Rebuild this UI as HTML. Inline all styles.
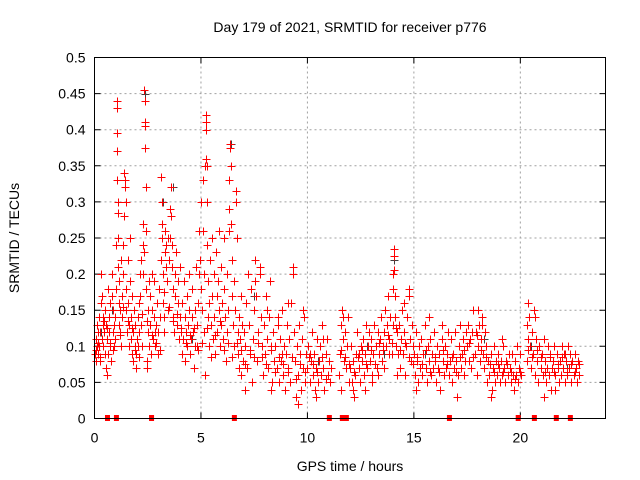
<!DOCTYPE html>
<html><head><meta charset="utf-8"><style>
html,body{margin:0;padding:0;background:#fff;}
svg{display:block;font-family:"Liberation Sans",sans-serif;}
</style></head><body>
<svg id="chart" width="640" height="480" viewBox="0 0 640 480" xmlns="http://www.w3.org/2000/svg">
<rect width="640" height="480" fill="#fff"/>
<text x="350" y="32" font-size="14" text-anchor="middle">Day 179 of 2021, SRMTID for receiver p776</text>
<text transform="translate(19,238) rotate(-90)" font-size="14" text-anchor="middle">SRMTID / TECUs</text>
<text x="350" y="471" font-size="14" text-anchor="middle">GPS time / hours</text>
<g id="grid"></g>
<g id="ticks"></g>
<g id="marks"></g>
<rect x="94.5" y="57.5" width="511" height="361" fill="none" stroke="#000" stroke-width="1"/>
</svg>
<script>
const xTicks = [0,5,10,15,20];
const xTickLabels = ["0","5","10","15","20"];
const yTicks = [0,0.05,0.1,0.15,0.2,0.25,0.3,0.35,0.4,0.45,0.5];
const yTickLabels = ["0","0.05","0.1","0.15","0.2","0.25","0.3","0.35","0.4","0.45","0.5"];
const gapHours = [0.61,1.03,2.68,6.57,11.03,11.64,11.83,16.67,19.9,20.66,21.69,22.35];
const grayPoints = [[0.3,.12],[1.05,.44],[2.35,.45],[2.4,.26],[3.7,.32],[5.25,.41],[6.4,.38],[9.3,.21],[13.6,.09],[18.3,.11],[0.8,.15],[4.6,.11],[3.2,.3],[7.5,.17],[10.5,.08],[12.8,.1],[15.5,.09],[20.5,.1],[22.2,.07],[14.06,.22]];
const redPoints = [
[0.02,.09],[0.05,.11],[0.08,.08],[0.1,.1],[0.12,.13],[0.15,.09],[0.18,.12],[0.2,.14],[0.22,.1],[0.25,.08],[0.27,.12],[0.3,.16],[0.32,.2],[0.34,.17],[0.36,.11],[0.38,.13],[0.4,.1],[0.42,.14],[0.45,.12],[0.48,.09],[0.5,.15],[0.52,.13],[0.55,.07],[0.58,.11],[0.6,.06],[0.62,.09],[0.65,.18],[0.68,.14],[0.7,.12],[0.72,.16],[0.75,.1],[0.78,.08],[0.8,.2],[0.82,.17],[0.85,.12],[0.88,.15],[0.9,.13],[0.92,.1],[0.95,.11],[0.98,.14],
[1.0,.24],[1.02,.18],[1.04,.43],[1.05,.44],[1.06,.395],[1.07,.37],[1.08,.33],[1.09,.3],[1.1,.285],[1.11,.25],[1.12,.21],[1.13,.16],[1.15,.13],[1.17,.19],[1.2,.15],[1.22,.12],[1.24,.22],[1.26,.1],[1.28,.17],
[1.3,.14],[1.33,.24],[1.35,.2],[1.38,.28],[1.4,.34],[1.42,.33],[1.44,.32],[1.46,.3],[1.48,.18],[1.5,.15],[1.52,.12],[1.55,.22],[1.58,.16],[1.6,.1],[1.62,.13],[1.65,.25],[1.68,.19],[1.7,.11],[1.72,.14],[1.75,.09],[1.78,.17],
[1.8,.12],[1.83,.08],[1.86,.15],[1.88,.1],[1.9,.13],[1.93,.07],[1.96,.09],[2.0,.11],[2.03,.14],[2.05,.1],[2.08,.16],[2.1,.12],[2.13,.2],[2.15,.17],[2.18,.22],[2.2,.13],[2.23,.1],[2.26,.24],[2.28,.27],
[2.3,.2],[2.32,.23],[2.34,.455],[2.35,.44],[2.36,.41],[2.37,.405],[2.38,.375],[2.4,.32],[2.42,.26],[2.44,.18],[2.46,.08],[2.48,.07],[2.5,.15],[2.52,.12],[2.55,.19],[2.58,.1],
[2.6,.17],[2.63,.13],[2.66,.09],[2.7,.2],[2.72,.15],[2.75,.11],[2.78,.14],[2.8,.19],[2.83,.12],[2.86,.1],[2.9,.13],[2.93,.16],[2.96,.09],[3.0,.12],[3.03,.18],[3.06,.14],
[3.1,.22],[3.13,.335],[3.15,.3],[3.17,.27],[3.19,.25],[3.2,.2],[3.22,.16],[3.25,.14],[3.28,.12],[3.3,.23],[3.33,.26],[3.35,.21],[3.38,.24],[3.4,.19],[3.43,.15],[3.46,.25],[3.5,.22],[3.53,.29],[3.55,.25],[3.58,.32],[3.6,.28],[3.62,.24],[3.65,.21],[3.68,.14],[3.7,.18],[3.73,.12],[3.76,.2],[3.8,.17],[3.83,.23],[3.86,.13],[3.9,.16],[3.93,.19],[3.96,.11],[4.0,.14],[4.03,.21],[4.06,.12],
[4.1,.09],[4.13,.16],[4.16,.11],[4.2,.19],[4.23,.14],[4.26,.08],[4.3,.12],[4.33,.17],[4.36,.1],[4.4,.13],[4.43,.2],[4.46,.15],[4.5,.09],[4.53,.11],[4.56,.14],[4.6,.18],[4.63,.12],[4.66,.07],[4.7,.1],[4.73,.15],[4.76,.21],[4.8,.13],[4.83,.1],[4.86,.16],
[4.9,.2],[4.93,.26],[4.96,.22],[5.0,.3],[5.02,.18],[5.05,.15],[5.08,.33],[5.1,.26],[5.12,.2],[5.15,.12],[5.18,.06],[5.2,.35],[5.22,.42],[5.23,.41],[5.24,.4],[5.25,.36],[5.27,.35],[5.29,.3],[5.3,.24],[5.32,.19],[5.35,.14],[5.38,.1],[5.4,.16],[5.43,.22],[5.46,.13],[5.5,.25],[5.53,.17],[5.56,.11],
[5.6,.2],[5.63,.14],[5.66,.09],[5.7,.23],[5.73,.17],[5.76,.12],[5.8,.19],[5.83,.26],[5.86,.15],[5.9,.1],[5.93,.13],[5.96,.21],[6.0,.16],[6.03,.11],[6.06,.25],[6.1,.18],[6.13,.14],[6.16,.08],[6.2,.12],[6.23,.2],[6.26,.15],
[6.3,.26],[6.32,.29],[6.34,.33],[6.36,.375],[6.38,.38],[6.4,.35],[6.42,.27],[6.44,.22],[6.46,.17],[6.5,.13],[6.53,.1],[6.56,.19],[6.6,.15],[6.63,.3],[6.66,.315],[6.7,.25],[6.72,.12],[6.75,.09],[6.78,.07],[6.8,.14],[6.83,.11],[6.86,.17],[6.9,.06],[6.93,.13],[6.96,.08],
[7.0,.12],[7.05,.1],[7.1,.16],[7.15,.07],[7.2,.2],[7.25,.13],[7.3,.09],[7.35,.18],[7.4,.05],[7.45,.11],[7.5,.15],[7.55,.22],[7.6,.17],[7.65,.08],[7.7,.12],[7.75,.2],[7.8,.14],[7.85,.1],[7.9,.06],[7.95,.13],[8.0,.09],[8.05,.17],[8.1,.11],[8.15,.07],[8.2,.14],[8.25,.19],[8.3,.1],[8.35,.05],[8.4,.12],[8.45,.08],[7.08,.04],[7.52,.19],[7.78,.21],[8.08,.15],[8.28,.04],
[8.5,.1],[8.55,.07],[8.6,.14],[8.65,.05],[8.7,.11],[8.75,.08],[8.8,.15],[8.85,.06],[8.9,.1],[8.95,.04],[9.0,.09],[9.05,.13],[9.1,.07],[9.15,.11],[9.2,.05],[9.25,.16],[9.3,.2],[9.32,.21],[9.35,.12],[9.4,.08],[9.45,.03],[9.5,.1],[9.55,.06],[9.6,.13],[9.65,.09],[9.7,.04],[9.75,.11],[9.8,.07],[9.85,.14],[9.9,.05],[9.95,.09],[8.62,.13],[8.82,.09],[9.08,.16],[9.58,.02],[9.78,.15],
[10.0,.07],[10.05,.1],[10.1,.05],[10.15,.08],[10.2,.12],[10.25,.06],[10.3,.09],[10.35,.04],[10.4,.07],[10.45,.11],[10.5,.05],[10.55,.08],[10.6,.1],[10.65,.06],[10.7,.13],[10.75,.07],[10.8,.04],[10.85,.09],[10.9,.11],[10.95,.06],[11.0,.08],[11.05,.05],[11.1,.07],[10.12,.09],[10.42,.03],[10.72,.11],
[11.5,.06],[11.55,.09],[11.6,.13],[11.62,.15],[11.65,.11],[11.7,.08],[11.75,.12],[11.8,.07],[11.85,.1],[11.9,.14],[11.95,.05],[11.58,.04],[11.68,.14],
[12.0,.07],[12.05,.1],[12.1,.05],[12.15,.08],[12.2,.03],[12.25,.06],[12.3,.09],[12.35,.12],[12.4,.07],[12.45,.05],[12.5,.1],[12.55,.08],[12.6,.11],[12.65,.06],[12.7,.09],[12.75,.13],[12.8,.07],[12.85,.1],[12.9,.12],[12.95,.08],[13.0,.11],[13.05,.06],[13.1,.09],[13.15,.13],[13.2,.1],[13.25,.07],[13.3,.12],[13.35,.09],[13.4,.11],[13.45,.14],[13.5,.08],[13.55,.1],[13.6,.12],[13.65,.15],[13.7,.1],[13.75,.13],[13.8,.17],[13.85,.11],[13.9,.14],[13.95,.09],[12.12,.04],[12.42,.09],[12.72,.04],[13.02,.05],[13.32,.06],[13.62,.07],[13.82,.09],
[14.0,.13],[14.02,.18],[14.04,.2],[14.06,.235],[14.07,.225],[14.08,.205],[14.1,.17],[14.12,.14],[14.15,.1],[14.2,.12],[14.25,.09],[14.3,.13],[14.35,.07],[14.4,.11],[14.45,.15],[14.5,.09],[14.55,.12],[14.6,.06],[14.65,.1],[14.7,.14],[14.75,.18],[14.78,.17],[14.8,.11],[14.85,.08],[14.9,.13],[14.95,.1],[14.22,.06],[14.52,.16],
[15.0,.09],[15.05,.06],[15.1,.12],[15.15,.08],[15.2,.05],[15.25,.1],[15.3,.07],[15.35,.11],[15.4,.06],[15.45,.09],[15.5,.13],[15.55,.07],[15.6,.05],[15.65,.1],[15.7,.08],[15.75,.11],[15.8,.06],[15.85,.09],[15.9,.07],[15.95,.12],[16.0,.08],[16.05,.05],[16.1,.1],[16.15,.07],[16.2,.09],[16.25,.04],[16.3,.11],[16.35,.08],[16.4,.06],[16.45,.1],[16.5,.07],[16.55,.09],[16.6,.12],[16.65,.06],[16.7,.08],[16.75,.11],[16.8,.05],[16.85,.09],[16.9,.07],[16.95,.12],[17.0,.08],[17.05,.06],[17.1,.1],[17.15,.13],[17.2,.07],[17.25,.09],[17.3,.11],[17.35,.06],[17.4,.08],[17.45,.12],[15.12,.04],[15.72,.14],[16.32,.13],[17.02,.03],
[17.5,.1],[17.55,.13],[17.6,.08],[17.65,.11],[17.7,.07],[17.75,.12],[17.8,.15],[17.85,.09],[17.9,.12],[17.95,.06],[18.0,.1],[18.05,.13],[18.1,.08],[18.15,.11],[18.2,.14],[18.25,.09],[18.3,.07],[18.35,.12],[18.4,.1],[18.45,.05],[18.5,.08],[18.55,.06],[18.6,.09],[18.65,.04],[18.7,.07],[18.75,.1],[18.8,.05],[18.85,.08],[18.9,.06],[18.95,.09],[19.0,.07],[19.05,.05],[19.1,.08],[19.15,.06],[19.2,.1],[19.25,.07],[19.3,.05],[19.35,.08],[19.4,.06],[19.45,.09],[18.02,.15],[18.22,.13],[18.62,.03],[19.12,.11],
[19.5,.07],[19.55,.05],[19.6,.09],[19.65,.06],[19.7,.04],[19.75,.08],[19.8,.06],[19.85,.1],[19.9,.05],[19.95,.07],[20.0,.09],[20.05,.06],
[20.3,.08],[20.32,.13],[20.35,.16],[20.38,.11],[20.4,.14],[20.45,.1],[20.5,.07],[20.55,.12],[20.6,.09],[20.65,.15],[20.68,.14],[20.7,.06],[20.75,.11],[20.8,.08],[20.85,.05],[20.9,.1],[20.95,.07],
[21.0,.09],[21.05,.06],[21.1,.11],[21.15,.08],[21.2,.05],[21.25,.07],[21.3,.1],[21.35,.06],[21.4,.09],[21.45,.04],[21.5,.07],[21.55,.08],[21.6,.1],[21.65,.06],[21.7,.09],[21.75,.07],[21.8,.05],[21.85,.08],[21.9,.06],[21.95,.1],[22.0,.07],[22.05,.09],[22.1,.05],[22.15,.08],[22.2,.06],[22.25,.1],[22.3,.07],[22.35,.09],[22.4,.05],[22.45,.08],[22.5,.06],[22.55,.09],[22.6,.07],[22.65,.05],[22.7,.08],[22.75,.06],[21.12,.03],[21.62,.04],[22.12,.09]
];
const extraPoints = [
[0.07,.095],[0.16,.105],[0.28,.085],[0.44,.135],[0.57,.125],[0.73,.105],[0.86,.095],[1.18,.115],[1.36,.155],[1.57,.135],[1.74,.125],[1.91,.095],[2.07,.085],[2.24,.145],[2.47,.135],[2.68,.115],[2.88,.105],[3.08,.095],[3.27,.175],[3.48,.155],[3.67,.135],[3.88,.145],[4.08,.125],[4.28,.105],[4.48,.115],[4.68,.125],[4.88,.095],[5.07,.105],[5.28,.125],[5.48,.085],[5.68,.115],[5.88,.135],[6.08,.095],[6.28,.105],[6.48,.085],[6.68,.105],[6.88,.095],[7.07,.075],[7.28,.095],[7.48,.085],[7.68,.105],[7.88,.085],[8.07,.075],[8.27,.095],[8.47,.065],[8.67,.085],[8.87,.075],[9.07,.065],[9.27,.085],[9.47,.055],[9.67,.075],[9.87,.065],[10.07,.085],[10.27,.075],[10.47,.065],[10.67,.085],[10.87,.055],[11.57,.095],[11.77,.085],[11.97,.075],[12.17,.065],[12.37,.085],[12.57,.095],[12.77,.075],[12.97,.095],[13.17,.075],[13.37,.105],[13.57,.095],[13.77,.115],[13.97,.105],[14.17,.125],[14.37,.095],[14.57,.105],[14.77,.085],[14.97,.075],[15.17,.085],[15.37,.075],[15.57,.095],[15.77,.065],[15.97,.085],[16.17,.065],[16.37,.095],[16.57,.075],[16.77,.085],[16.97,.065],[17.17,.085],[17.37,.095],[17.57,.105],[17.77,.085],[17.97,.115],[18.17,.095],[18.37,.085],[18.57,.075],[18.77,.065],[18.97,.075],[19.17,.065],[19.37,.075],[19.57,.065],[19.77,.055],[19.97,.065],[20.37,.095],[20.57,.085],[20.77,.095],[20.97,.085],[21.17,.065],[21.37,.085],[21.57,.065],[21.77,.075],[21.97,.085],[22.17,.065],[22.37,.075],[22.57,.065],[22.77,.075]
];

const NS = "http://www.w3.org/2000/svg";
const X0 = 94.5, X1 = 605.5, Y0 = 418.5, Y1 = 57.5;
function xs(h){ return X0 + (h/24)*(X1-X0); }
function ys(v){ return Y0 - (v/0.5)*(Y0-Y1); }
function mk(tag, attrs, parent){ const e = document.createElementNS(NS, tag); for (const k in attrs) e.setAttribute(k, attrs[k]); parent.appendChild(e); return e; }

const grid = document.getElementById('grid');
const ticks = document.getElementById('ticks');
yTicks.forEach((v,i)=>{
  const y = ys(v);
  if (i>0 && i<yTicks.length-1) {
    const g = mk('line',{x1:X0,x2:X1,y1:y,y2:y,stroke:'#a0a0a0','stroke-dasharray':'2,3','stroke-width':1},grid);
    
    
  }
  const t = mk('path',{d:`M${X0} ${y}h6M${X1} ${y}h-6`,stroke:'#000','stroke-width':1},ticks);
  
  
  const lb = mk('text',{x:X0-9,y:y+5,'font-size':14,'text-anchor':'end'},ticks);
  lb.textContent = yTickLabels[i];
  
  
});
xTicks.forEach((h,i)=>{
  const x = xs(h);
  if (i>0) {
    const g = mk('line',{x1:x,x2:x,y1:Y0,y2:Y1,stroke:'#a0a0a0','stroke-dasharray':'2,3','stroke-width':1},grid);
    
    
  }
  const t = mk('path',{d:`M${x} ${Y0}v-6M${x} ${Y1}v6`,stroke:'#000','stroke-width':1},ticks);
  
  
  const lb = mk('text',{x:x,y:Y0+24,'font-size':14,'text-anchor':'middle'},ticks);
  lb.textContent = xTickLabels[i];
  
  
});

const marks = document.getElementById('marks');
function plusPath(pts){
  let d = '';
  pts.forEach(p=>{ const x = Math.round(xs(p[0]))+0.5, y = Math.round(ys(p[1]))+0.5; d += `M${x-4} ${y}h8M${x} ${y-4}v8`; });
  return d;
}
const grayPath = mk('path',{d:plusPath(grayPoints),stroke:'#404040','stroke-width':1,fill:'none'},marks);


const redPath = mk('path',{d:plusPath(redPoints.concat(extraPoints)),stroke:'#ff0000','stroke-width':1,fill:'none'},marks);


gapHours.forEach(h=>{
  const r = mk('rect',{x:xs(h)-2.5,y:Y0-3.5,width:5,height:6,fill:'#ff0000'},marks);
  
  
});
</script>
</body></html>
